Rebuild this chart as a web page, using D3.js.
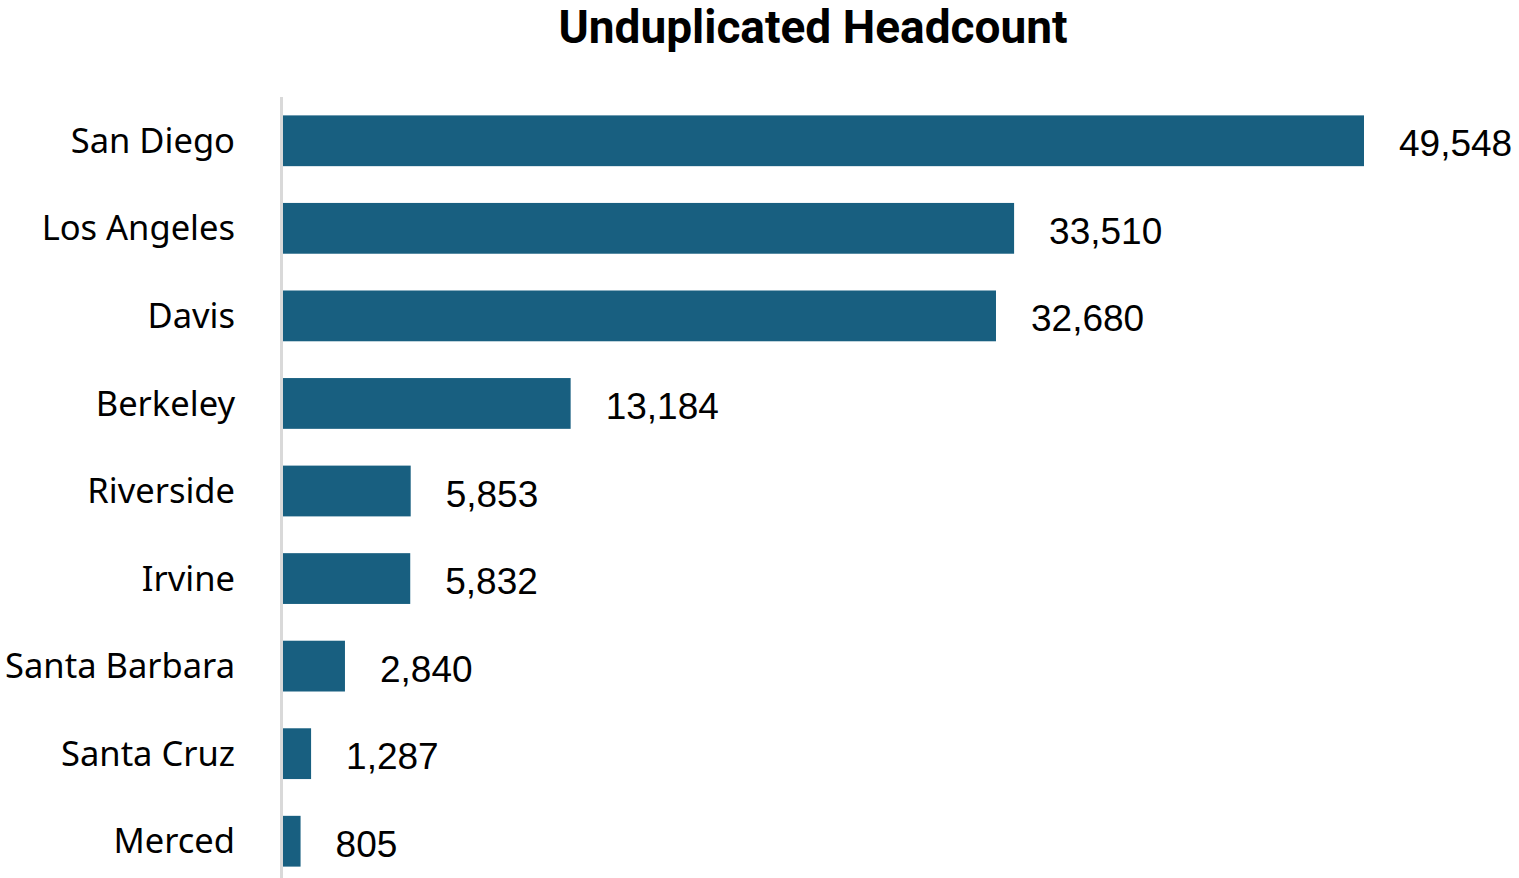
<!DOCTYPE html>
<html>
<head>
<meta charset="utf-8">
<script src="https://cdn.jsdelivr.net/npm/d3@7"></script>
<style>
  body { margin: 0; background: #fff; }
  svg { display: block; }
</style>
</head>
<body>
<svg id="chart" width="1519" height="878"></svg>
<script>
const campuses = ['San Diego', 'Los Angeles', 'Davis', 'Berkeley', 'Riverside', 'Irvine', 'Santa Barbara', 'Santa Cruz', 'Merced'];
const headcount = [49548, 33510, 32680, 13184, 5853, 5832, 2840, 1287, 805];

const rows = campuses.map((c, i) => ({ campus: c, value: headcount[i] }));

const svg = d3.select('#chart');
const barColor = '#185f80';

const x = d3.scaleLinear()
      .domain([0, 49548])
      .range([283, 1364]);

const y = d3.scaleBand()
      .domain(campuses)
      .range([97, 885])
      .paddingInner(0.42)
      .paddingOuter(0.21);

// title
svg.append('text')
      .attr('x', 813)
      .attr('y', 43)
      .attr('text-anchor', 'middle')
      .attr('font-family', 'Roboto, sans-serif')
      .attr('font-weight', 'bold')
      .attr('font-size', 46)
      .attr('fill', '#000')
      .text('Unduplicated Headcount');

svg.selectAll('rect.bar')
      .data(rows)
      .join('rect')
      .attr('class', 'bar')
      .attr('x', x(0))
      .attr('y', d => y(d.campus))
      .attr('width', d => x(d.value) - x(0))
      .attr('height', y.bandwidth())
      .attr('fill', barColor);

// axis line
svg.append('line')
      .attr('x1', 281.5).attr('x2', 281.5)
      .attr('y1', 97).attr('y2', 878)
      .attr('stroke', '#d9d9d9')
      .attr('stroke-width', 3);

svg.selectAll('text.cat')
      .data(rows)
      .join('text')
      .attr('class', 'cat')
      .attr('x', 235)
      .attr('y', d => y(d.campus) + y.bandwidth() / 2)
      .attr('dy', '0.35em')
      .attr('text-anchor', 'end')
      .attr('font-family', '"Noto Sans", sans-serif')
      .attr('font-size', 34.5)
      .attr('fill', '#000')
      .text(d => d.campus);

svg.selectAll('text.val')
      .data(rows)
      .join('text')
      .attr('class', 'val')
      .attr('x', d => x(d.value) + 35)
      .attr('y', d => y(d.campus) + y.bandwidth() / 2)
      .attr('dy', '0.42em')
      .attr('font-family', '"Liberation Sans", Arial, sans-serif')
      .attr('font-size', 37)
      .attr('fill', '#000')
      .text(d => d3.format(',')(d.value));
</script>
</body>
</html>
